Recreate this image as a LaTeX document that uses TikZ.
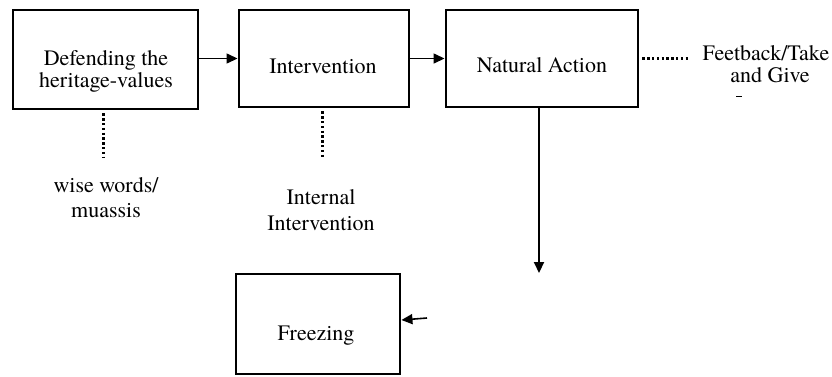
\documentclass[tikz,border=0pt]{standalone}
\usepackage{fontspec}
\setmainfont{texgyretermes}[Extension=.otf, UprightFont=*-regular, BoldFont=*-bold, ItalicFont=*-italic, BoldItalicFont=*-bolditalic]
\usetikzlibrary{arrows.meta}
\begin{document}
\begin{tikzpicture}[x=1pt,y=-1pt,
  box/.style={draw, line width=2.9pt, rectangle, inner sep=0pt},
  txt/.style={anchor=base, inner sep=0pt, font=\fontsize{22}{24}\selectfont},
  arr/.style={line width=1.4pt, -{Triangle[length=11pt,width=10pt]}},
  vdots/.style={line width=3pt, dash pattern=on 2.3pt off 2.5pt},
]
\useasboundingbox (0,0) rectangle (832,376);

% boxes
\node (b1) [box, minimum width=185pt, minimum height=99pt] at (105.5,59.5) {};
\node (b2) [box, minimum width=170pt, minimum height=97pt] at (324,58.5) {};
\node (b3) [box, minimum width=192pt, minimum height=97pt] at (542,58.5) {};
\node (b4) [box, minimum width=164pt, minimum height=100pt] at (318,324) {};

% box texts
\node (t1a) [txt] at (106,65) {Defending the};
\node (t1b) [txt] at (106,87) {heritage-values};
\node (t2)  [txt] at (323,73) {Intervention};
\node (t3)  [txt] at (542,72) {Natural Action};
\node (t4)  [txt] at (316,340) {Freezing};

% side labels
\node (l1a) [txt] at (106,192) {wise words/};
\node (l1b) [txt] at (106,217) {muassis};
\node (l2a) [txt] at (321,204) {Internal};
\node (l2b) [txt] at (321,230) {Intervention};
\node (l3a) [txt] at (766,60) {Feetback/Take};
\node (l3b) [txt] at (770,82) {and Give};

% free ends
\coordinate (d1) at (103,157);
\coordinate (d2) at (322,158);
\coordinate (d3) at (688,58);
\coordinate (c1) at (539,273);
\coordinate (c2) at (427,318);

% arrows between boxes
\draw[arr] (b1.east |- b2.west) -- (b2.west);
\draw[arr] (b2.east) -- (b3.west);
\draw[arr, line width=2.1pt] (b3.south -| c1) -- (c1);
\draw[arr, line width=1.6pt] (c2) -- ([yshift=4pt]b4.east);

% dotted links to labels
\draw[vdots, shorten <=3pt] (b1.south -| d1) -- (d1);
\draw[vdots, shorten <=3pt] (b2.south -| d2) -- (d2);
\draw[vdots, shorten <=3pt] (b3.east |- d3) -- (d3);

% small mark under the last label
\draw[line width=1pt] (736,96) -- (742,96);
\end{tikzpicture}
\end{document}
